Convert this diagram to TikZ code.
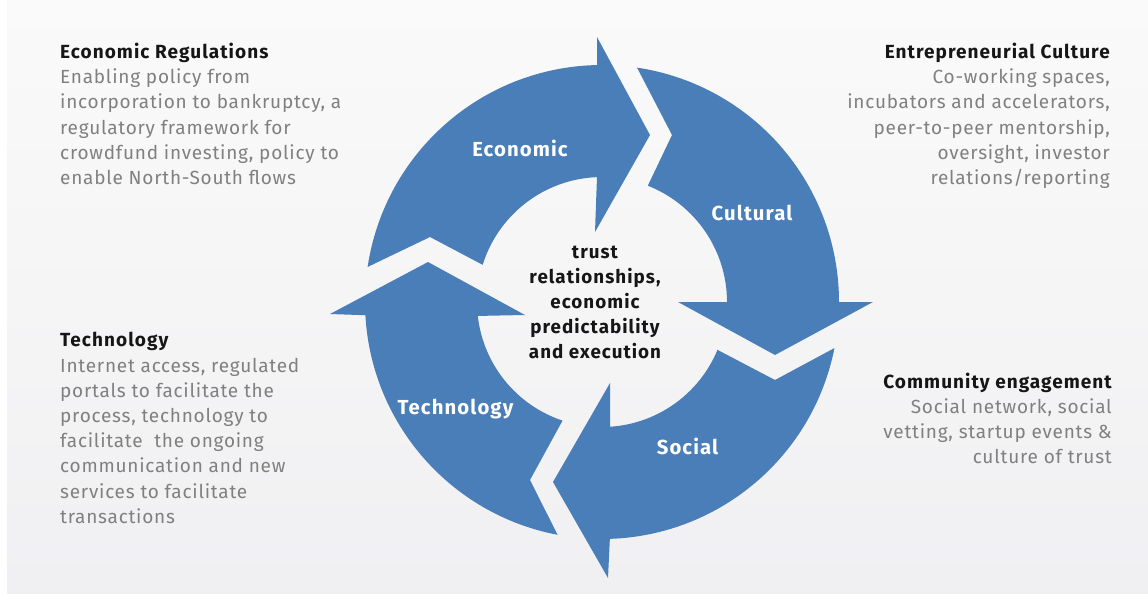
\documentclass[tikz,border=0pt]{standalone}
\usepackage{fontspec}
\setmainfont{Fira Sans}[LetterSpace=4, BoldFeatures={LetterSpace=5.5}]
\usetikzlibrary{calc}
\definecolor{arrowblue}{RGB}{74,126,184}
\definecolor{descgrey}{RGB}{128,128,128}
\definecolor{headblack}{RGB}{22,22,22}
\definecolor{bgtop}{RGB}{250,250,250}
\definecolor{bgbot}{RGB}{240,240,242}
\newcommand{\fl}{\rule{0pt}{20pt}}
\begin{document}
\begin{tikzpicture}[x=1pt,y=-1pt,
  arrowshape/.style={fill=arrowblue},
  arrowlabel/.style={text=white,anchor=base,inner sep=0pt,font=\bfseries\fontsize{20.3}{24}\selectfont},
  centertext/.style={align=center,anchor=north,inner sep=0pt,text=headblack,font=\bfseries\fontsize{18.8}{25}\selectfont},
  descleft/.style={align=left,anchor=north west,inner sep=0pt,text=descgrey,font=\fontsize{19}{25.2}\selectfont},
  descright/.style={align=right,anchor=north east,inner sep=0pt,text=descgrey,font=\fontsize{19}{25.2}\selectfont}]
\useasboundingbox (0,0) rectangle (1148,595);
\fill[white] (0,0) rectangle (1148,595);
\shade[top color=bgtop,bottom color=bgbot] (7,0) rectangle (1148,593);
\coordinate (C) at (602,302);
% Economic
\fill[arrowshape] ($(C)+(188.5:237)$) arc[start angle=188.5, end angle=268.8, radius=237]
  -- (597,37) -- (650,135) -- (595,232) -- ($(C)+(267.7:125)$)
  arc[start angle=267.7, end angle=197.3, radius=125] -- (430,237) -- cycle;
% Cultural
\fill[arrowshape] ($(C)+(278.5:237)$) arc[start angle=278.5, end angle=360, radius=237]
  -- (873,302) -- (775,355) -- (678,302) -- ($(C)+(360:125)$)
  arc[start angle=360, end angle=291.5, radius=125] -- (672,135) -- cycle;
% Social
\fill[arrowshape] ($(C)+(11.2:237)$) arc[start angle=11.2, end angle=88.1, radius=237]
  -- (608,578) -- (553,482) -- (610,383) -- ($(C)+(86.3:125)$)
  arc[start angle=86.3, end angle=22.5, radius=125] -- (775,380) -- cycle;
% Technology
\fill[arrowshape] ($(C)+(100.8:237)$) arc[start angle=100.8, end angle=176.8, radius=237]
  -- (330,314) -- (428,262) -- (525,315) -- ($(C)+(173.6:125)$)
  arc[start angle=173.6, end angle=108.4, radius=125] -- (530,480) -- cycle;
% arrow labels
\node[arrowlabel] (lecon) at (520,156) {Economic};
\node[arrowlabel] (lcult) at (752,220.7) {Cultural};
\node[arrowlabel] (lsoc) at (687.5,454) {Social};
\node[arrowlabel] (ltech) at (455.5,414) {Technology};
% centre
\node[centertext] (centre) at (595,238) {\fl trust\\relationships,\\economic\\predictability\\and execution};
% descriptions
\node[descleft] (econreg) at (60,38.3) {\fl{\color{headblack}\bfseries Economic Regulations}\\Enabling policy from\\incorporation to bankruptcy, a\\regulatory framework for\\crowdfund investing, policy to\\enable North-South flows};
\node[descright] (entcult) at (1110,38.3) {\fl{\color{headblack}\bfseries Entrepreneurial Culture}\\Co-working spaces,\\incubators and accelerators,\\peer-to-peer mentorship,\\oversight, investor\\relations/reporting};
\node[descleft] (techdesc) at (60,326.7) {\fl{\color{headblack}\bfseries Technology}\\Internet access, regulated\\portals to facilitate the\\process, technology to\\facilitate~ the ongoing\\communication and new\\services to facilitate\\transactions};
\node[descright] (commeng) at (1112,368) {\fl{\color{headblack}\bfseries Community engagement}\\Social network, social\\vetting, startup events \&\\culture of trust};
\end{tikzpicture}
\end{document}
